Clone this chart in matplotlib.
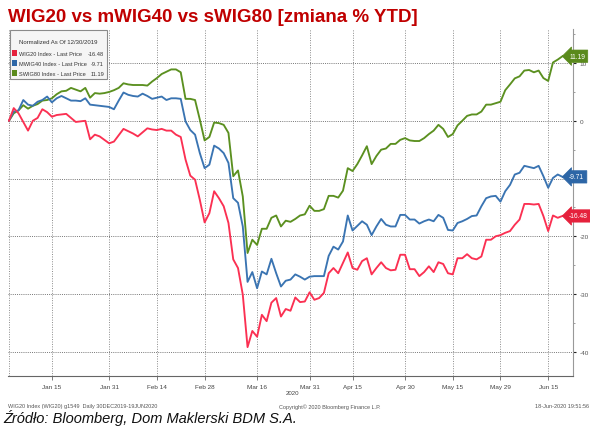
import numpy as np
import pandas as pd
import matplotlib
matplotlib.use("Agg")
import matplotlib.pyplot as plt
from matplotlib.patches import Rectangle

# trading days on GPW (holidays removed)
start_date = "2019-12-30"
end_date = "2020-06-18"
holidays = ["2019-12-31", "2020-01-01", "2020-01-06", "2020-04-10",
            "2020-04-13", "2020-05-01", "2020-06-11"]

tick_dates = ["2020-01-15", "2020-01-31", "2020-02-14", "2020-02-28", "2020-03-16",
              "2020-03-31", "2020-04-15", "2020-04-30", "2020-05-15", "2020-05-29",
              "2020-06-15"]
tick_labels = ["Jan 15", "Jan 31", "Feb 14", "Feb 28", "Mar 16", "Mar 31",
               "Apr 15", "Apr 30", "May 15", "May 29", "Jun 15"]

# % change YTD, normalized as of 12/30/2019
wig20 = [0, 2.2, 1.3, -0.2, -1.7, 0.0, 0.5, 2.0, 1.5, 0.7,
         1.0, 1.1, 1.2, 0.5, -0.2, -0.1, 0.0, -3.2, -2.4, -2.7,
         -3.3, -3.9, -3.6, -2.5, -1.4, -1.8, -2.2, -2.7, -2.0, -1.3,
         -1.5, -1.6, -1.4, -1.7, -1.7, -2.4, -2.8, -6.7, -9.5, -10.2,
         -13.7, -17.6, -16.0, -12.2, -13.4, -14.8, -17.7, -24.0, -25.5, -30.1,
         -39.2, -36.4, -37.4, -33.6, -34.7, -31.5, -30.7, -33.9, -32.6, -32.9,
         -30.6, -31.4, -31.3, -29.7, -31.0, -30.7, -29.8, -26.4, -25.5, -26.4,
         -24.6, -22.8, -25.5, -25.8, -24.3, -23.8, -26.6, -25.5, -24.5, -25.5,
         -25.9, -25.8, -23.2, -23.2, -25.7, -25.7, -26.9, -26.2, -25.2, -26.2,
         -24.5, -24.8, -26.4, -26.6, -23.8, -23.8, -23.1, -23.8, -24.0, -23.5,
         -20.6, -20.6, -20.0, -19.8, -19.4, -19.1, -18.0, -17.1, -14.4, -14.4,
         -14.5, -14.4, -16.5, -19.1, -16.4, -16.8, -16.48]
mwig40 = [0, 1.6, 1.8, 3.6, 2.8, 2.6, 3.3, 3.6, 4.2, 3.2,
          3.9, 4.3, 3.9, 3.5, 3.5, 3.4, 3.9, 2.8, 2.7, 2.6,
          2.5, 2.4, 2.0, 3.5, 4.9, 4.5, 4.3, 4.2, 4.7, 4.3,
          3.8, 4.0, 4.2, 3.6, 3.9, 3.9, 3.8, -0.1, -1.6, -2.4,
          -5.6, -8.2, -7.6, -4.3, -4.8, -5.6, -7.3, -13.4, -14.2, -18.3,
          -27.9, -26.2, -29.0, -26.1, -26.6, -23.9, -26.4, -28.7, -27.7, -27.5,
          -26.6, -27.0, -27.5, -27.0, -26.9, -26.9, -26.9, -23.4, -21.8, -22.3,
          -20.9, -16.4, -19.0, -18.2, -17.4, -18.0, -19.8, -18.3, -17.0, -18.0,
          -18.3, -18.3, -16.3, -16.3, -17.1, -17.1, -17.8, -17.4, -17.1, -17.4,
          -16.3, -16.8, -18.9, -19.0, -17.7, -17.4, -17.0, -16.5, -16.4, -14.8,
          -13.4, -13.1, -13.0, -14.0, -12.2, -11.1, -9.3, -9.0, -7.8, -8.0,
          -8.2, -7.8, -9.6, -11.6, -9.9, -9.3, -9.71]
swig80 = [0, 1.3, 1.8, 2.7, 2.1, 2.6, 2.9, 3.5, 3.6, 3.9,
          4.6, 5.1, 5.2, 5.7, 5.4, 5.1, 5.7, 4.0, 4.8, 4.7,
          4.8, 5.0, 5.3, 5.7, 6.5, 6.3, 6.2, 6.2, 6.2, 6.1,
          6.8, 7.4, 8.1, 8.5, 8.9, 8.9, 8.4, 3.8, 3.8, 3.6,
          0.2, -3.4, -2.8, -0.3, -0.4, -0.7, -2.1, -9.6, -8.6, -13.1,
          -22.9, -20.6, -21.5, -18.7, -18.7, -16.8, -16.4, -18.3, -17.3, -17.5,
          -17.0, -16.4, -16.2, -14.7, -15.6, -15.6, -15.3, -13.0, -13.0, -13.3,
          -12.1, -8.2, -8.7, -7.5, -6.0, -4.4, -7.5, -6.1, -5.0, -4.8,
          -4.0, -4.0, -3.3, -3.0, -3.4, -3.5, -3.5, -3.0, -2.3, -1.7,
          -0.7, -1.4, -2.8, -2.3, -0.8, 0.0, 0.85, 1.1, 1.1, 1.6,
          2.8, 2.8, 3.05, 3.3, 5.3, 6.3, 7.35, 7.7, 8.7, 8.8,
          8.4, 8.7, 7.4, 6.9, 10.1, 10.6, 11.19]

series_names = ["WIG20 Index - Last Price", "MWIG40 Index - Last Price", "SWIG80 Index - Last Price"]
last_labels = ["-16.48", "-9.71", "11.19"]
line_colors = ["#fb3052", "#3a74b2", "#5b9020"]
tag_colors = ["#e5213c", "#2d66a6", "#5a8a1c"]

W, H = 590, 427
fig = plt.figure(figsize=(W / 100, H / 100), dpi=100)
fig.patch.set_facecolor("white")


def fx(px):
    return px / W


def fy(py):
    return 1 - py / H


SMALL = "Liberation Sans"

dates = pd.bdate_range(start_date, end_date)
dates = dates[~dates.isin(pd.to_datetime(holidays))]
x = np.arange(len(dates))
tick_pos = [dates.get_loc(pd.Timestamp(d)) for d in tick_dates]

ax = fig.add_axes([fx(8), fy(377), fx(573) - fx(8), fy(30) - fy(377)])
ax.set_xlim(-0.2, 118.2)
ax.set_ylim(-44.2, 15.9)

for vals, col in zip([swig80, mwig40, wig20], [line_colors[2], line_colors[1], line_colors[0]]):
    ax.plot(x, vals, color=col, lw=1.35, solid_joinstyle="round", zorder=3)

# grid
for yv in [-40, -30, -20, -10, 0, 10]:
    ax.axhline(yv, color="#777777", lw=0.7, ls=(0, (1, 1.2)), zorder=1)
for tp in [0] + tick_pos:
    ax.axvline(tp, color="#8a8a8a", lw=0.7, ls=(0, (1, 1.5)), zorder=1)

ax.spines["top"].set_visible(False)
ax.spines["left"].set_visible(False)
ax.spines["right"].set_color("#999999")
ax.spines["bottom"].set_color("#666666")
ax.spines["right"].set_linewidth(0.8)
ax.spines["bottom"].set_linewidth(0.8)

ax.set_xticks(tick_pos)
ax.set_xticklabels(tick_labels, fontsize=4.6, color="#444444", family=SMALL)
ax.tick_params(axis="x", length=3, width=0.6, color="#666666", pad=3)

# -10 label sits under the mWIG40 tag, as in the original
ax.yaxis.tick_right()
ax.set_yticks([-40, -30, -20, -10, 0, 10])
ax.set_yticklabels(["-40", "-30", "-20", "", "0", "10"], fontsize=4.6, color="#555555", family=SMALL)
ax.set_yticks([-35, -25, -15, -5, 5, 15], minor=True)
ax.tick_params(axis="y", which="major", length=2.5, width=0.8, color="#222222", pad=2)
ax.tick_params(axis="y", which="minor", length=1.5, width=0.5, color="#777777")

# last-value tags
last_vals = [wig20[-1], mwig40[-1], swig80[-1]]
for val, lab, col in zip(last_vals, last_labels, tag_colors):
    ax.text(117.4, val, lab, fontsize=4.8, color="white", va="center", ha="left",
            family=SMALL, clip_on=False, zorder=6,
            bbox=dict(boxstyle="larrow,pad=0.4", fc=col, ec=col, lw=0.5))

# title
fig.text(fx(8), fy(17), "WIG20 vs mWIG40 vs sWIG80 [zmiana % YTD]", fontsize=13.5,
         fontweight="bold", color="#c00000", family="Liberation Sans", va="center", ha="left")

# legend box
fig.patches.append(Rectangle((fx(10), fy(80)), fx(107) - fx(10), fy(31) - fy(80),
                             transform=fig.transFigure, fc="#f5f5f5", ec="#8a8a8a",
                             lw=0.8, zorder=10))
fig.text(fx(58), fy(43), "Normalized As Of 12/30/2019", fontsize=4.3, color="#333333",
         ha="center", va="center", family=SMALL, zorder=11)
for k, (name, lab, col) in enumerate(zip(series_names, last_labels, line_colors)):
    ry = 54 + k * 10.2
    fig.patches.append(Rectangle((fx(12), fy(ry + 3)), fx(5), fy(0) - fy(6),
                                 transform=fig.transFigure, fc=tag_colors[k], ec="none", zorder=11))
    fig.text(fx(19), fy(ry), name, fontsize=4.1, color="#333333", ha="left", va="center",
             family=SMALL, zorder=11)
    fig.text(fx(104), fy(ry), lab, fontsize=4.1, color="#333333", ha="right", va="center",
             family=SMALL, zorder=11)

# footer
fig.text(fx(292), fy(394), "2020", fontsize=4.4, color="#444444", ha="center", va="center", family=SMALL)
fig.text(fx(8), fy(407), "WIG20 Index (WIG20) g1549  Daily 30DEC2019-19JUN2020", fontsize=4.0,
         color="#555555", ha="left", va="center", family=SMALL)
fig.text(fx(330), fy(407), "Copyright\u00a9 2020 Bloomberg Finance L.P.", fontsize=4.0,
         color="#555555", ha="center", va="center", family=SMALL)
fig.text(fx(589), fy(407), "18-Jun-2020 19:51:56", fontsize=4.0,
         color="#555555", ha="right", va="center", family=SMALL)
fig.text(fx(3), fy(418), "\u0179r\u00f3d\u0142o: Bloomberg, Dom Maklerski BDM S.A.", fontsize=10.5,
         style="italic", color="#111111", ha="left", va="center", family="Liberation Sans")

fig.savefig("out.png", dpi=100, facecolor="white")
